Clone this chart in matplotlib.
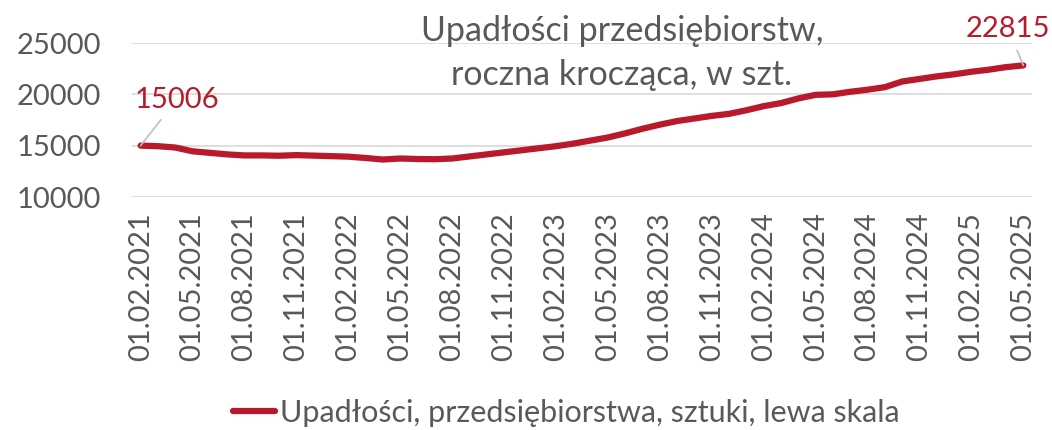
import matplotlib
matplotlib.use("Agg")
import matplotlib.pyplot as plt
from matplotlib.lines import Line2D

# Upadłości przedsiębiorstw, roczna krocząca (odczyt z wykresu), 02.2021 - 05.2025
values = [15006, 14950, 14820, 14450, 14300, 14150, 14050, 14050, 14020, 14080,
          14030, 13980, 13930, 13800, 13650, 13750, 13700, 13680, 13750, 13950,
          14150, 14350, 14550, 14750, 14950, 15200, 15500, 15800, 16200, 16650,
          17050, 17400, 17650, 17900, 18100, 18450, 18850, 19150, 19600, 19950,
          20000, 20250, 20450, 20700, 21250, 21500, 21750, 21950, 22200, 22400,
          22650, 22815]
tick_labels = ["01.02.2021", "01.05.2021", "01.08.2021", "01.11.2021",
               "01.02.2022", "01.05.2022", "01.08.2022", "01.11.2022",
               "01.02.2023", "01.05.2023", "01.08.2023", "01.11.2023",
               "01.02.2024", "01.05.2024", "01.08.2024", "01.11.2024",
               "01.02.2025", "01.05.2025"]
y_ticks = [10000, 15000, 20000, 25000]

red = "#B8192B"
grey_txt = "#595959"
plt.rcParams["font.family"] = ["Lato", "DejaVu Sans"]

fig = plt.figure(figsize=(10.52, 4.30), dpi=100)
ax = fig.add_axes([132 / 1052, 1 - 197 / 430, 900 / 1052, 154 / 430])

x = list(range(len(values)))
ax.plot(x, values, color=red, lw=4.5, solid_capstyle="round", zorder=3,
        label="Upadłości, przedsiębiorstwa, sztuki, lewa skala")

ax.set_xlim(-0.5, len(values) - 0.5)
ax.set_ylim(10000, 25000)
ax.set_yticks(y_ticks)
ax.set_xticks(x[::3])
ax.set_xticklabels(tick_labels, rotation=90)
ax.tick_params(axis="both", length=0, labelcolor=grey_txt)
ax.tick_params(axis="x", pad=11, labelsize=21)
ax.tick_params(axis="y", pad=22, labelsize=21)
ax.grid(axis="y", color="#D9D9D9", lw=1.2)
ax.set_axisbelow(True)
for s in ax.spines.values():
    s.set_visible(False)

# etykiety pierwszej i ostatniej wartości
ax.annotate(f"{values[0]}", xy=(0, values[0]), xytext=(36, 46),
            textcoords="offset pixels", ha="center", va="center",
            fontsize=21, color=red, annotation_clip=False,
            arrowprops=dict(arrowstyle="-", color="#BFBFBF", lw=1.2, shrinkA=4, shrinkB=0))
ax.annotate(f"{values[-1]}", xy=(x[-1], values[-1]), xytext=(-15, 36),
            textcoords="offset pixels", ha="center", va="center",
            fontsize=21, color=red, annotation_clip=False,
            arrowprops=dict(arrowstyle="-", color="#BFBFBF", lw=1.2, shrinkA=4, shrinkB=0))

fig.text(622 / 1052, 1 - 53 / 430, "Upadłości przedsiębiorstw,\nroczna krocząca, w szt.",
         ha="center", va="center", fontsize=24.5, color=grey_txt, linespacing=1.45)

fig.legend(handles=[Line2D([0], [0], color=red, lw=4.5, solid_capstyle="round")],
           labels=["Upadłości, przedsiębiorstwa, sztuki, lewa skala"],
           loc="center", bbox_to_anchor=(566 / 1052, 1 - 413 / 430), frameon=False,
           fontsize=22, labelcolor=grey_txt, handlelength=1.4, handletextpad=0.15)

fig.savefig("out.png", dpi=100)
